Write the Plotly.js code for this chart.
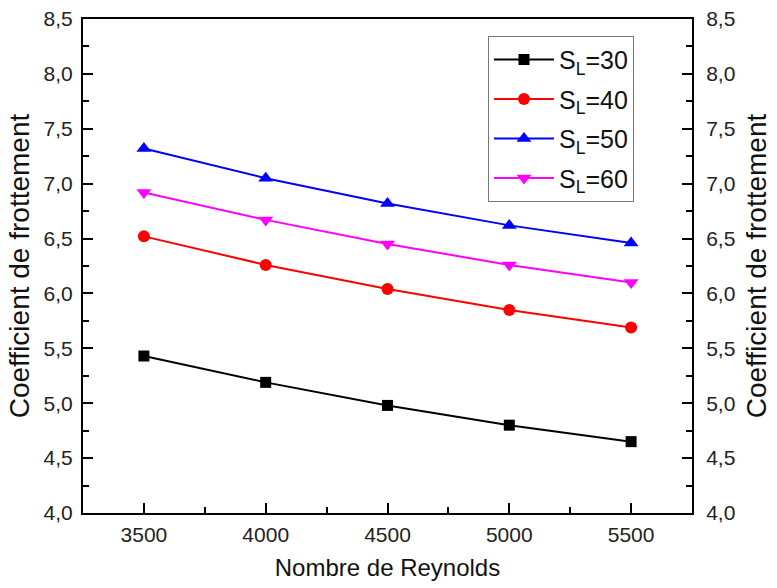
<!DOCTYPE html>
<html>
<head>
<meta charset="utf-8">
<script src="https://cdn.plot.ly/plotly-3.0.1.min.js"></script>
<style>html,body{margin:0;padding:0;background:#fff;}#chart{width:777px;height:588px;}</style>
</head>
<body>
<div id="chart"></div>
<script>
const reynolds = [3500, 4000, 4500, 5000, 5500];
const sl30 = [5.43, 5.19, 4.98, 4.80, 4.65];
const sl40 = [6.52, 6.26, 6.04, 5.85, 5.69];
const sl50 = [7.32, 7.05, 6.82, 6.62, 6.46];
const sl60 = [6.92, 6.67, 6.45, 6.26, 6.10];
const seriesNames = ['S<sub>L</sub>=30', 'S<sub>L</sub>=40', 'S<sub>L</sub>=50', 'S<sub>L</sub>=60'];
const colors = ['#000000', '#ff0000', '#0000ff', '#ff00ff'];
const symbols = ['square', 'circle', 'triangle-up', 'triangle-down'];
const sizes = [11, 12, 13, 13];
const yTickVals = [4.0, 4.5, 5.0, 5.5, 6.0, 6.5, 7.0, 7.5, 8.0, 8.5];
const xTickVals = [3500, 4000, 4500, 5000, 5500];

const allY = [sl30, sl40, sl50, sl60];
const traces = allY.map((ys, i) => ({
  x: reynolds, y: ys, name: seriesNames[i], type: 'scatter', mode: 'lines+markers',
  legendgroup: 'g' + i,
  line: {color: colors[i], width: 2},
  marker: {symbol: symbols[i], size: sizes[i], color: colors[i]}
}));
// invisible trace for right axis
traces.push({x: [reynolds[0]], y: [sl30[0]], yaxis: 'y2', showlegend: false, mode: 'markers',
  marker: {opacity: 0}, hoverinfo: 'skip'});

const FONT = 'Liberation Sans, Arial, sans-serif';
const tickFont = {family: FONT, size: 21, color: '#222'};
const yTitleFont = {family: FONT, size: 28, color: '#111'};
const xTitleFont = {family: FONT, size: 24, color: '#111'};

const yCommon = {
  range: [4.0, 8.5], tickvals: yTickVals, tickformat: '.1f',
  ticks: 'inside', ticklen: 10, tickwidth: 2, tickcolor: '#000',
  minor: {dtick: 0.25, ticks: 'inside', ticklen: 6, tickwidth: 2, tickcolor: '#000', showgrid: false},
  showline: true, linecolor: '#000', linewidth: 2, showgrid: false, zeroline: false,
  tickfont: tickFont, fixedrange: true
};

const layout = {
  width: 777, height: 588,
  margin: {l: 83, r: 85, t: 19, b: 75},
  separators: ', ',
  paper_bgcolor: '#ffffff', plot_bgcolor: '#ffffff',
  showlegend: true,
  legend: {
    x: 0.665, y: 0.966, xanchor: 'left', yanchor: 'top',
    bordercolor: '#777', borderwidth: 1, bgcolor: '#fff',
    font: {family: FONT, size: 25, color: '#111'},
    itemwidth: 60, tracegroupgap: 4, traceorder: 'grouped'
  },
  xaxis: {
    range: [3250, 5750], tickvals: xTickVals,
    ticks: 'inside', ticklen: 10, tickwidth: 2, tickcolor: '#000',
    minor: {dtick: 250, tick0: 3250, ticks: 'inside', ticklen: 6, tickwidth: 2, tickcolor: '#000', showgrid: false},
    showline: true, linecolor: '#000', linewidth: 2, mirror: true, showgrid: false, zeroline: false,
    tickfont: tickFont, ticklabelstandoff: 2,
    title: {text: 'Nombre de Reynolds', font: xTitleFont, standoff: 14}
  },
  yaxis: Object.assign({}, yCommon, {
    side: 'left', ticklabelstandoff: 4,
    title: {text: 'Coefficient de frottement', font: yTitleFont, standoff: 6}
  }),
  yaxis2: Object.assign({}, yCommon, {
    side: 'right', overlaying: 'y', ticklabelstandoff: 8,
    title: {text: 'Coefficient de frottement', font: yTitleFont, standoff: 12}
  })
};

Plotly.newPlot('chart', traces, layout, {displayModeBar: false, staticPlot: true});
</script>
</body>
</html>
